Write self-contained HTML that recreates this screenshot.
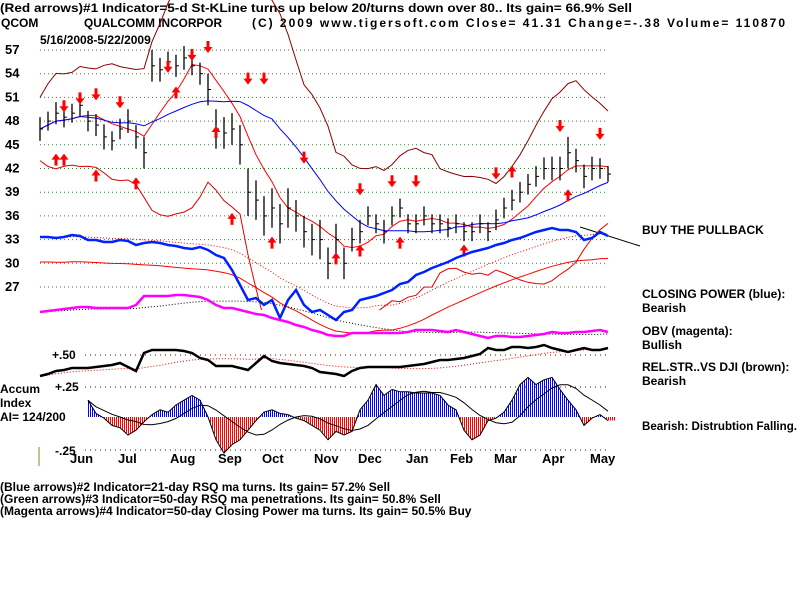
<!DOCTYPE html>
<html><head><meta charset="utf-8"><style>
body{margin:0;background:#fff;}
svg{display:block;font-family:"Liberation Sans",sans-serif;font-weight:bold;font-size:12px;}
</style></head><body>
<svg id="c" width="800" height="600">
<g id="txt">
<text x="0" y="12" textLength="632" lengthAdjust="spacingAndGlyphs">(Red arrows)#1 Indicator=5-d St-KLine turns up below 20/turns down over 80.. Its gain= 66.9% Sell</text>
<text x="1" y="27">QCOM</text>
<text x="84" y="27" textLength="138" lengthAdjust="spacingAndGlyphs">QUALCOMM INCORPOR</text>
<text x="252" y="27" textLength="533" lengthAdjust="spacing">(C) 2009 www.tigersoft.com    Close=  41.31   Change=-.38 Volume= 110870</text>
<text x="40" y="44">5/16/2008-5/22/2009</text>
<text x="642" y="234">BUY THE PULLBACK</text>
<text x="642" y="298">CLOSING POWER (blue):</text>
<text x="642" y="312">Bearish</text>
<text x="642" y="335">OBV (magenta):</text>
<text x="642" y="349">Bullish</text>
<text x="642" y="371">REL.STR..VS DJI (brown):</text>
<text x="642" y="385">Bearish</text>
<text x="642" y="430" textLength="155" lengthAdjust="spacingAndGlyphs">Bearish: Distrubtion Falling.</text>
<text x="52" y="359">+.50</text>
<text x="0" y="393">Accum</text>
<text x="0" y="407">Index</text>
<text x="0" y="421">AI= 124/200</text>
<text x="55" y="391">+.25</text>
<text x="55" y="455">-.25</text>
<text x="0" y="491">(Blue arrows)#2 Indicator=21-day RSQ ma turns. Its gain= 57.2% Sell</text>
<text x="0" y="503">(Green arrows)#3 Indicator=50-day RSQ ma penetrations. Its gain= 50.8% Sell</text>
<text x="0" y="515">(Magenta arrows)#4 Indicator=50-day Closing Power ma turns. Its gain= 50.5% Buy</text>
<line x1="39" y1="447" x2="39" y2="466" stroke="#8a8a20" stroke-width="1"/>
<line x1="580" y1="227" x2="640" y2="246" stroke="#000" stroke-width="1"/>
</g>
</svg>
<script>
const priceTicks=[57,54,51,48,45,42,39,36,33,30,27];
const months=["Jun","Jul","Aug","Sep","Oct","Nov","Dec","Jan","Feb","Mar","Apr","May"];
const monthIdx=[5,11,17.5,23.5,29,35.5,41,47,52.5,58,64,70];
const closes=[47,48,49,48.5,49,50,48,47.5,46,45.5,47,48,46,44,55,54.5,55.5,55,56,55,54,52,47,46.5,47,45,39,38,36,37,35,37,36,34,33,33,30,33,30,33,34,36,35,34,36,37,35,35,36,35,35,34.5,35,34,34,35,34,35.5,37,38,39,40,41,42,42,42,44,43,41,42,42,41.3];
const ranges=[1.5,1.2,1.4,1.3,1.2,1.5,1.3,1.4,1.6,1.2,1.3,1.5,1.5,2,2,1.5,1.3,1.4,1.5,1.2,1.4,2,2.5,2,2,2.5,3,2.5,2.5,2.5,2.5,2.5,2,2,2,2.5,2,2,2,1.5,1.5,1.2,1.2,1.5,1.2,1.2,1.2,1.2,1.2,1.2,1.2,1.2,1.2,1.2,1.2,1.2,1.2,1.3,1.3,1.3,1.3,1.3,1.3,1.4,1.5,1.5,2,1.5,1.5,1.5,1.3,1];
const closingPower=[93,93,92,93,95,94,90,90,88,88,90,89,85,87,88,87,85,84,82,81,83,80,75,72,60,45,30,32,25,30,12,30,40,25,18,20,15,10,18,20,30,32,34,37,40,46,48,55,58,62,65,68,72,75,78,80,82,85,87,90,92,95,98,100,102,100,100,98,90,92,98,94];
const obv=[18,19,20,21,22,23,23,22,22,22,22,22,25,34,34,34,34,35,35,34,33,30,25,22,22,20,18,16,15,12,10,8,5,3,0,-2,-5,-6,-6,-3,-3,-3,-3,-3,-3,-3,-2,0,0,0,-1,-2,0,-2,-4,-6,-8,-6,-6,-7,-7,-6,-5,-4,-2,-3,-3,-2,-2,-1,0,-2];
const relStr=[-8,-6,-3,-2,0,0,0,1,2,3,5,1,-3,15,18,18,18,18,17,15,10,8,2,2,2,0,-2,5,12,7,5,4,3,2,0,-4,-5,-6,-8,-3,0,1,1,1,1,1,2,3,4,6,8,8,9,10,12,14,20,18,18,21,21,20,21,23,20,18,16,18,20,18,18,20];
const accum=[null,null,null,null,null,null,.14,.03,-.01,-.07,-.09,-.15,-.11,-.04,.02,.06,.04,.1,.14,.18,.14,0,-.19,-.3,-.23,-.19,-.11,-.03,.04,.06,.03,.02,-.01,-.03,-.07,-.11,-.19,-.12,-.15,-.12,.06,.14,.27,.18,.23,.21,.21,.2,.2,.2,.18,.1,.06,-.11,-.19,-.15,-.03,-.01,.04,.14,.27,.33,.27,.31,.33,.23,.14,.06,-.07,-.01,.02,-.03];
const redDown=[[3,49.5],[5,50.5],[7,51],[10,50],[16,54.5],[19,56],[21,57],[26,53],[28,53],[33,43],[40,39],[44,40],[47,40],[57,41],[65,47],[70,46]];
const redUp=[[2,43.5],[3,43.5],[7,41.5],[12,40.5],[17,52],[22,47],[24,36],[29,33],[37,31],[40,32],[45,33],[53,32],[59,42],[66,39]];

const svg=document.getElementById('c');const NS="http://www.w3.org/2000/svg";
const X=i=>40+i*8;const Y=p=>50+(57-p)*7.9;
const YCP=v=>330-v;const YOBV=v=>330-v;const YRS=v=>368-v;const YAI=v=>417-v*120;
const clip=mk('clipPath',{id:'pc'},'price-clip');
const cr=document.createElementNS(NS,'rect');cr.setAttribute('x',0);cr.setAttribute('y',0);cr.setAttribute('width',620);cr.setAttribute('height',310);clip.appendChild(cr);
function mk(tag,attrs,name){const e=document.createElementNS(NS,tag);for(const k in attrs)e.setAttribute(k,attrs[k]);


svg.appendChild(e);return e;}
function poly(vals,fy,color,w,dash,name){const pts=[];vals.forEach((v,i)=>{if(v!==null&&!isNaN(v))pts.push(X(i)+","+fy(v).toFixed(1));});
const a={points:pts.join(" "),fill:"none",stroke:color,"stroke-width":w,"clip-path":"url(#pc)"};if(dash)a["stroke-dasharray"]=dash;if(fy!==Y)delete a["clip-path"];return mk('polyline',a,name);}
function ma(a,n){return a.map((v,i)=>{if(v===null)return null;let s=0,c=0;for(let j=Math.max(0,i-n+1);j<=i;j++){if(a[j]!==null){s+=a[j];c++;}}return s/c;});}
function sd(a,n){const m=ma(a,n);return a.map((v,i)=>{let s=0,c=0;for(let j=Math.max(0,i-n+1);j<=i;j++){s+=(a[j]-m[i])**2;c++;}return Math.sqrt(s/c);});}
priceTicks.forEach(p=>{mk('line',{x1:40,x2:608,y1:Y(p),y2:Y(p),stroke:"#2a8a2a","stroke-dasharray":"1 3"},'grid-line-'+p);
const t=mk('text',{x:5,y:Y(p)+4,"font-size":13},'y-tick-'+p);t.textContent=p;});
[[355,"rs-grid-50"],[387,"accum-grid-plus25"],[450,"accum-grid-minus25"]].forEach(([y,n])=>mk('line',{x1:85,x2:608,y1:y,y2:y,stroke:"#800000","stroke-dasharray":"1 4"},n));
months.forEach((m,k)=>{const t=mk('text',{x:X(monthIdx[k])-10,y:463,"font-size":13},'x-month-'+m);t.textContent=m;});
const m21=ma(closes,6),m50=ma(closes,16),mb=ma(closes,8),s=sd(closes,12);
poly(mb.map((v,i)=>v+4+2.5*s[i]),Y,"#8b0000",1,null,'upper-band');
poly(mb.map((v,i)=>v-4-2.5*s[i]),Y,"#e00000",1,null,'lower-band');
poly(m21,Y,"#ff0000",1,null,'ma-21');
poly(m50,Y,"#0000ff",1,null,'ma-50');
closes.forEach((c,i)=>{const x=X(i);mk('line',{x1:x,x2:x,y1:Y(c+ranges[i]),y2:Y(c-ranges[i]),stroke:"#000","stroke-width":1.3},'price-bar');
mk('line',{x1:x,x2:x+3,y1:Y(c),y2:Y(c),stroke:"#000"},'close-tick');});
redDown.forEach(([i,p])=>{const x=X(i),y=Y(p);mk('path',{d:`M${x-1.5},${y-9}h3v6h3l-4.5,6l-4.5,-6h3z`,fill:"#f00"},'sell-arrow');});
redUp.forEach(([i,p])=>{const x=X(i),y=Y(p);mk('path',{d:`M${x-1.5},${y+9}h3v-6h3l-4.5,-6l-4.5,6h3z`,fill:"#f00"},'buy-arrow');});
const cpm=ma(closingPower,12);
poly(cpm,YCP,"#ff0000",1,"1 2",'closing-power-ma');
poly(cpm.map(v=>v-25),YCP,"#ff0000",1,null,'closing-power-band');
poly(closingPower,YCP,"#0022ff",2.5,null,'closing-power-line');
poly(ma(obv,16),YOBV,"#000",1,"1 2",'obv-ma');
poly(obv,YOBV,"#ff00ff",2.5,null,'obv-line');
poly(ma(relStr,16),YRS,"#ff0000",1,"1 2",'rel-str-ma');
poly(relStr,YRS,"#000",2.5,null,'rel-str-line');
accum.forEach((v,i)=>{if(v===null)return;const n=i<accum.length-1&&accum[i+1]!==null?accum[i+1]:v;
for(let k=0;k<8;k+=2){const vv=v+(n-v)*k/8;mk('line',{x1:X(i)+k+0.5,x2:X(i)+k+0.5,y1:417,y2:YAI(vv),stroke:vv>=0?"#0000ff":"#ff0000","stroke-width":1,"shape-rendering":"crispEdges"},'accum-bar');}});
poly(accum,YAI,"#000",1,null,'accum-outline');
poly(ma(accum,7),YAI,"#000",1,null,'accum-ma');
</script>
</body></html>
